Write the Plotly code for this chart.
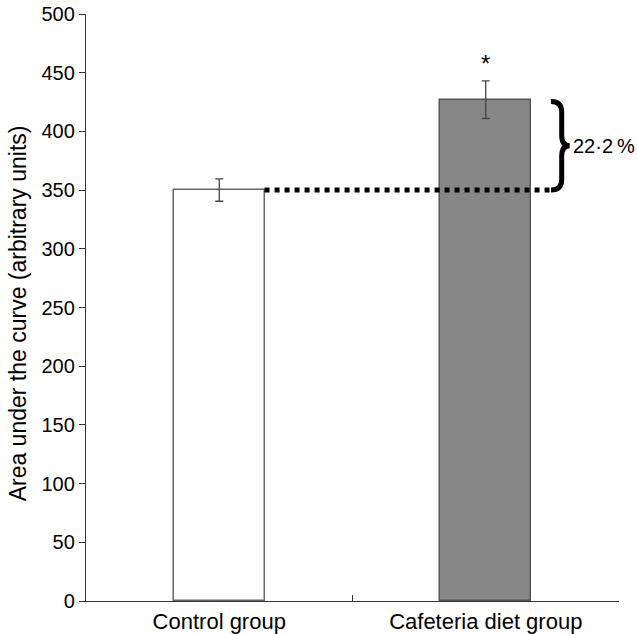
import plotly.graph_objects as go

categories = ["Control group", "Cafeteria diet group"]
means = [350, 427]
sems = [9.5, 16]
bar_colors = ["#ffffff", "#878787"]
bar_line_colors = ["#666666", "#555555"]
y_ticks = [0, 50, 100, 150, 200, 250, 300, 350, 400, 450, 500]
pct_label = "22·2\u2009%"
y_title = "Area under the curve (arbitrary units)"

FONT = "Liberation Sans, Arial, sans-serif"

fig = go.Figure()
fig.add_trace(go.Bar(
    x=categories, y=means, width=0.34,
    marker=dict(color=bar_colors, line=dict(color=bar_line_colors, width=1.5)),
    error_y=dict(type="data", array=sems, visible=True, color="#444444",
                 thickness=1.3, width=4),
    showlegend=False,
))

# dotted reference line from control bar to brace
brace_tip = 1.245
brace_spine = 1.285
brace_point = 1.315
fig.add_shape(type="line", xref="x", yref="y",
              x0=0.17, x1=brace_tip + 0.005, y0=means[0], y1=means[0],
              line=dict(color="black", width=5, dash="5px,5px"))

# curly brace between the two means
ytop, ybot = means[1] - 1.5, means[0]
ymid = (ytop + ybot) / 2
r = 9
path = (f"M {brace_tip},{ytop} Q {brace_spine},{ytop} {brace_spine},{ytop - r} "
        f"L {brace_spine},{ymid + r} Q {brace_spine},{ymid} {brace_point},{ymid} "
        f"Q {brace_spine},{ymid} {brace_spine},{ymid - r} "
        f"L {brace_spine},{ybot + r} Q {brace_spine},{ybot} {brace_tip},{ybot}")
fig.add_shape(type="path", xref="x", yref="y", path=path,
              line=dict(color="black", width=5))

fig.add_annotation(x=brace_point, y=ymid, xref="x", yref="y", text=pct_label,
                   showarrow=False, xanchor="left", yanchor="middle", xshift=1,
                   font=dict(family=FONT, size=20, color="black"))

fig.add_annotation(x=categories[1], y=means[1] + sems[1], xref="x", yref="y",
                   text="*", showarrow=False, xanchor="center", yanchor="bottom",
                   yshift=2, font=dict(family=FONT, size=24, color="black"))

fig.add_annotation(x=-68 / 533, y=0.49, xref="paper", yref="paper",
                   text=y_title, textangle=-90, showarrow=False,
                   xanchor="center", yanchor="middle",
                   font=dict(family=FONT, size=23, color="black"))

fig.update_layout(
    width=637, height=634,
    margin=dict(l=86, r=18, t=14, b=33, autoexpand=False),
    paper_bgcolor="white", plot_bgcolor="white",
    font=dict(family=FONT, color="black"),
    bargap=0,
)
fig.update_xaxes(
    range=[-0.5, 1.5], showline=True, linecolor="#333333", linewidth=1.3,
    ticks="inside", tickson="boundaries", ticklen=6, tickcolor="#333333",
    tickwidth=1.3, showgrid=False, zeroline=False, automargin=False,
    tickfont=dict(family=FONT, size=22, color="black"),
)
fig.update_yaxes(
    range=[0, 500], tickvals=y_ticks, showline=True, linecolor="#333333",
    linewidth=1.3, ticks="outside", ticklen=6, tickcolor="#333333", tickwidth=1.3,
    showgrid=False, zeroline=False, automargin=False,
    tickfont=dict(family=FONT, size=20, color="black"),
)

fig.write_html("out.html")
